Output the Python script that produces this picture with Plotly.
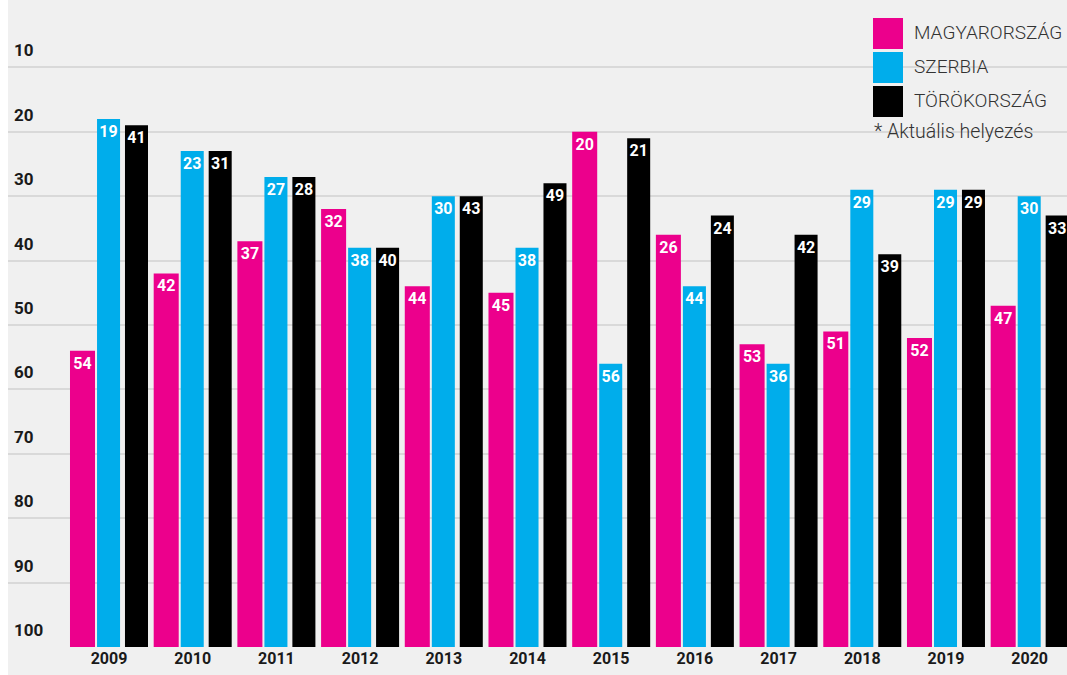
import plotly.graph_objects as go

# ---------------- data ----------------
years = ["2009", "2010", "2011", "2012", "2013", "2014",
         "2015", "2016", "2017", "2018", "2019", "2020"]
series_names = ["MAGYARORSZÁG", "SZERBIA", "TÖRÖKORSZÁG"]

# bar heights
hu_bar = [54, 42, 37, 32, 44, 45, 20, 36, 53, 51, 52, 47]
rs_bar = [18, 23, 27, 38, 30, 38, 56, 44, 56, 29, 29, 30]
tr_bar = [19, 23, 27, 38, 30, 28, 21, 33, 36, 39, 29, 33]

# printed labels (actual placement)
hu_rank = [54, 42, 37, 32, 44, 45, 20, 26, 53, 51, 52, 47]
rs_rank = [19, 23, 27, 38, 30, 38, 56, 44, 36, 29, 29, 30]
tr_rank = [41, 31, 28, 40, 43, 49, 21, 24, 42, 39, 29, 33]

y_tickvals = [0, 10, 20, 30, 40, 50, 60, 70, 80, 90, 100]
y_ticktext = ["", "10", "20", "30", "40", "50", "60", "70", "80", "90", "100"]
legend_note = "* Aktuális helyezés"

# ---------------- style ----------------
W, H = 1067, 675
ML, MR, MT, MB = 8, 0, 3, 28
PW, PH = W - ML - MR, H - MT - MB
colors = ["#ec008c", "#00adeb", "#000000"]
offsets = [-0.466, -0.143, 0.191]
widths = [0.299, 0.275, 0.275]
BG = "#f0f0f0"
FONT = "Roboto"


def px_x(px):
    return (px - ML) / PW


def px_y(py):
    return 1 - (py - MT) / PH


fig = go.Figure()
for name, vals, ranks, col, off, wd in zip(
        series_names, [hu_bar, rs_bar, tr_bar], [hu_rank, rs_rank, tr_rank],
        colors, offsets, widths):
    fig.add_trace(go.Bar(
        x=years,
        y=[v - 100 for v in vals],
        base=100,
        name=name,
        marker=dict(color=col, line=dict(width=0)),
        offset=off,
        width=wd,
        text=[str(r) for r in ranks],
        textposition="inside",
        insidetextanchor="end",
        textangle=0,
        constraintext="none",
        insidetextfont=dict(family=FONT, size=16, color="white", weight="bold"),
        showlegend=False,
        hoverinfo="skip",
    ))

shapes = [dict(type="rect", xref="paper", yref="paper",
               x0=-ML / PW - 0.01, x1=0, y0=-0.2, y1=1.2,
               fillcolor="white", line=dict(width=0), layer="above")]
annotations = []
box_tops = [18, 52, 86]
for name, col, top in zip(series_names, colors, box_tops):
    shapes.append(dict(type="rect", xref="paper", yref="paper",
                       x0=px_x(873), x1=px_x(903),
                       y0=px_y(top + 31), y1=px_y(top),
                       fillcolor=col, line=dict(width=0), layer="above"))
    annotations.append(dict(xref="paper", yref="paper", x=px_x(912),
                            y=px_y(top + 14.5), text=name, showarrow=False,
                            xanchor="left", yanchor="middle",
                            font=dict(family=FONT, size=19, color="#333333",
                                      weight=300)))
annotations.append(dict(xref="paper", yref="paper", x=px_x(872),
                        y=px_y(131.5), text=legend_note, showarrow=False,
                        xanchor="left", yanchor="middle",
                        font=dict(family=FONT, size=19.5, color="#333333",
                                  weight=300)))

fig.update_layout(
    width=W, height=H,
    margin=dict(l=ML, r=MR, t=MT, b=MB, pad=0),
    paper_bgcolor=BG, plot_bgcolor=BG,
    barmode="overlay",
    font=dict(family=FONT, color="#1a1a1a"),
    xaxis=dict(range=[-1.2067, 11.446], showgrid=False, zeroline=False,
               showline=False, ticks="", fixedrange=True,
               tickfont=dict(family=FONT, size=16, color="#1a1a1a",
                             weight="bold")),
    yaxis=dict(range=[100, 0], tickvals=y_tickvals, ticktext=y_ticktext,
               ticklabelposition="inside top", ticklabelshift=5,
               ticklabelstandoff=3, showgrid=True,
               gridcolor="#d9d9d9", gridwidth=2, zeroline=False,
               showline=False, ticks="", fixedrange=True,
               tickfont=dict(family=FONT, size=17, color="#1a1a1a",
                             weight="bold")),
    shapes=shapes,
    annotations=annotations,
)

fig.write_html(
    "out.html",
    config={"displayModeBar": False},
    post_script="document.body.style.margin='0';document.body.style.overflow='hidden';",
)
